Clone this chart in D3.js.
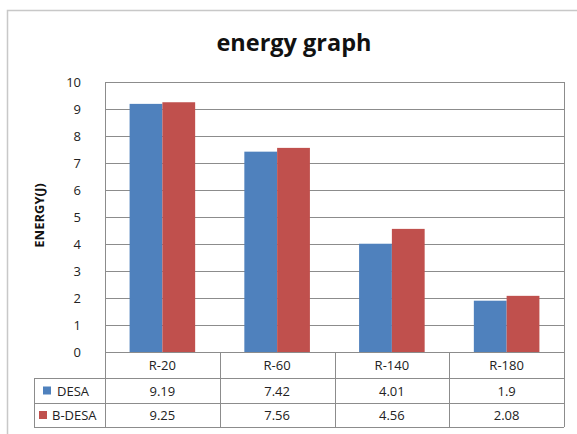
<!DOCTYPE html>
<html>
<head>
<meta charset="utf-8">
<script src="https://cdn.jsdelivr.net/npm/d3@7"></script>
<style>
  html, body { margin: 0; padding: 0; background: #fff; }
  svg { display: block; font-family: "Open Sans", "Liberation Sans", sans-serif; }
</style>
</head>
<body>
<svg id="chart" width="577" height="434"></svg>
<script>
// Energy per route for the two schemes
const categories = ["R-20", "R-60", "R-140", "R-180"];
const seriesNames = ["DESA", "B-DESA"];
const desaValues = [9.19, 7.42, 4.01, 1.9];
const bdesaValues = [9.25, 7.56, 4.56, 2.08];
const yTicks = [0, 1, 2, 3, 4, 5, 6, 7, 8, 9, 10];
const colors = ["#4F81BD", "#C0504D"];

const series = [desaValues, bdesaValues];

const svg = d3.select("#chart");
const W = 577, H = 434;

// outer chart frame (top and left edges visible)
svg.append("path")
  .attr("d", `M7.5,${H} V10.5 H${W}`)
  .attr("fill", "none")
  .attr("stroke", "#c8c8c8")
  .attr("stroke-width", 1.5);

const plot = { left: 105, right: 564, top: 82, bottom: 352 };

const x = d3.scaleBand().domain(categories).range([plot.left, plot.right]);
const y = d3.scaleLinear().domain([0, 10]).range([plot.bottom, plot.top]);
const barW = x.bandwidth() / 3.5;
const xs = d3.scaleBand().domain(seriesNames)
  .range([0, barW * 2]);

// title
svg.append("text")
  .attr("x", 294).attr("y", 51)
  .attr("text-anchor", "middle")
  .attr("font-size", 23.5).attr("font-weight", "bold")
  .attr("fill", "#111")
  .text("energy graph");

// gridlines
svg.append("g").selectAll("line").data(yTicks).join("line")
  .attr("x1", plot.left).attr("x2", plot.right)
  .attr("y1", d => Math.round(y(d)) + 0.5).attr("y2", d => Math.round(y(d)) + 0.5)
  .attr("stroke", "#8c8c8c").attr("stroke-width", 1);

// y axis
const yAxis = d3.axisLeft(y).tickValues(yTicks).tickSize(0).tickPadding(0).tickFormat(d3.format("d"));
const gy = svg.append("g").attr("transform", `translate(${plot.left - 24},0)`).call(yAxis);
gy.select(".domain").remove();
gy.selectAll("text").attr("font-size", 13).attr("fill", "#222").attr("font-family", "Open Sans, Liberation Sans, sans-serif");

// plot border
svg.append("rect")
  .attr("x", plot.left + 0.5).attr("y", plot.top + 0.5)
  .attr("width", plot.right - plot.left).attr("height", plot.bottom - plot.top)
  .attr("fill", "none").attr("stroke", "#8c8c8c");

// bars
const groups = svg.append("g").selectAll("g").data(categories).join("g")
  .attr("transform", c => `translate(${x(c) + (x.bandwidth() - barW * 2) / 2},0)`);
groups.selectAll("rect")
  .data((c, i) => seriesNames.map((s, j) => ({ s, v: series[j][i], j })))
  .join("rect")
  .attr("x", d => xs(d.s))
  .attr("width", xs.bandwidth())
  .attr("y", d => y(d.v))
  .attr("height", d => y(0) - y(d.v))
  .attr("fill", d => colors[d.j]);

// y axis title
svg.append("text")
  .attr("transform", `translate(44,215.5) rotate(-90)`)
  .attr("text-anchor", "middle")
  .attr("font-size", 13).attr("font-weight", "bold")
  .attr("fill", "#111")
  .text("ENERGY(J)");

// data table below the axis
const rows = [352, 378, 403, 427];
const tableLeft = 34;
const tg = svg.append("g").attr("stroke", "#8c8c8c").attr("fill", "none");
// horizontal lines
rows.forEach((r, i) => {
  tg.append("line")
    .attr("x1", i === 0 ? plot.left : tableLeft).attr("x2", plot.right)
    .attr("y1", r + 0.5).attr("y2", r + 0.5);
});
// vertical lines
const cols = [plot.left].concat(categories.map(c => x(c) + x.bandwidth()));
cols.forEach(cx => {
  tg.append("line")
    .attr("x1", Math.round(cx) + 0.5).attr("x2", Math.round(cx) + 0.5)
    .attr("y1", rows[0]).attr("y2", rows[3]);
});
tg.append("line")
  .attr("x1", tableLeft + 0.5).attr("x2", tableLeft + 0.5)
  .attr("y1", rows[1]).attr("y2", rows[3]);

// category header
svg.append("g").selectAll("text").data(categories).join("text")
  .attr("x", c => x(c) + x.bandwidth() / 2)
  .attr("y", (rows[0] + rows[1]) / 2 + 5)
  .attr("text-anchor", "middle")
  .attr("font-size", 13).attr("fill", "#222")
  .text(c => c);

// series rows
series.forEach((vals, j) => {
  const cy = (rows[j + 1] + rows[j + 2]) / 2;
  const legendX = j === 0 ? 43 : 39;
  svg.append("rect")
    .attr("x", legendX).attr("y", cy - 4)
    .attr("width", 8).attr("height", 8)
    .attr("fill", colors[j]);
  svg.append("text")
    .attr("x", legendX + (j === 0 ? 14 : 13)).attr("y", cy + 5)
    .attr("font-size", 13).attr("fill", "#222")
    .text(seriesNames[j]);
  svg.append("g").selectAll("text").data(vals).join("text")
    .attr("x", (v, i) => x(categories[i]) + x.bandwidth() / 2)
    .attr("y", cy + 5)
    .attr("text-anchor", "middle")
    .attr("font-size", 13).attr("fill", "#222")
    .text(v => String(v));
});
</script>
</body>
</html>
